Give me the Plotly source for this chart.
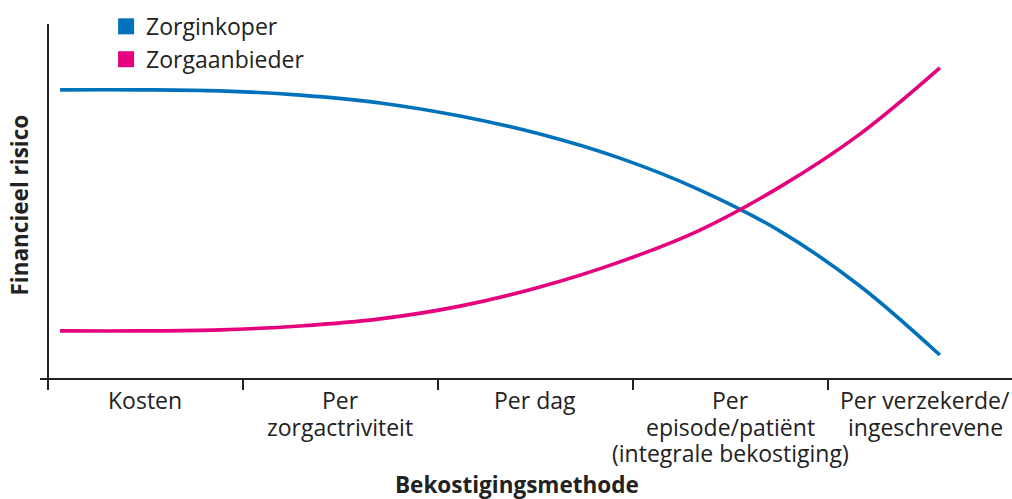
import plotly.graph_objects as go

categories = ["Kosten", "Per<br>zorgactriviteit", "Per dag",
              "Per<br>episode/patiënt<br>(integrale bekostiging)",
              "Per verzekerde/<br>ingeschrevene"]
category_centers = [0.5, 1.5, 2.5, 3.5, 4.5]
category_bounds = [0, 1, 2, 3, 4]

# positions along the method axis (category units) and risk levels (0-100)
x_pts = [0.062, 0.472, 0.882, 1.292, 1.703, 2.113, 2.523, 2.933, 3.344, 3.754, 4.164, 4.574]
zorginkoper = [81.4, 81.4, 81.1, 79.9, 77.7, 74.0, 68.9, 62.1, 53.1, 41.5, 26.0, 6.5]
zorgaanbieder = [13.3, 13.3, 13.6, 14.7, 16.7, 20.3, 25.7, 32.8, 41.8, 54.0, 68.9, 87.6]

BLUE = "#0072bb"
PINK = "#e5007d"
INK = "#222222"
FONT = "Open Sans"
PLOT_H = 354.0  # plot-area height in px (for paper-coordinate offsets)

fig = go.Figure()
fig.add_trace(go.Scatter(x=x_pts, y=zorginkoper, mode="lines",
                         line=dict(color=BLUE, width=3.6, shape="spline", smoothing=1.0),
                         showlegend=False))
fig.add_trace(go.Scatter(x=x_pts, y=zorgaanbieder, mode="lines",
                         line=dict(color=PINK, width=3.6, shape="spline", smoothing=1.0),
                         showlegend=False))
fig.add_trace(go.Scatter(x=[None], y=[None], mode="markers", name="Zorginkoper",
                         marker=dict(symbol="square", size=16, color=BLUE)))
fig.add_trace(go.Scatter(x=[None], y=[None], mode="markers", name="Zorgaanbieder",
                         marker=dict(symbol="square", size=16, color=PINK)))

# category labels, one annotation per text line for tight leading
annotations = []
for cx, label in zip(category_centers, categories):
    for i, line in enumerate(label.split("<br>")):
        annotations.append(dict(
            text=line, xref="x", yref="paper", x=cx, y=-(22 + 26.5 * i) / PLOT_H,
            xanchor="center", yanchor="middle", showarrow=False,
            font=dict(size=23, color=INK)))

annotations += [
    dict(text="<b>Bekostigingsmethode</b>", xref="paper", yref="paper",
         x=0.491, y=-106 / PLOT_H, xanchor="center", yanchor="middle", showarrow=False,
         font=dict(size=22.5, color=INK)),
    dict(text="<b>Financieel risico</b>", xref="paper", yref="paper", textangle=-90,
         x=-0.0206, y=0.49, xanchor="center", yanchor="middle", showarrow=False,
         font=dict(size=22.5, color=INK)),
]

fig.update_layout(
    width=1012, height=499,
    margin=dict(l=40, r=0, t=24, b=121),
    paper_bgcolor="white", plot_bgcolor="white",
    font=dict(family=FONT, size=23, color=INK),
    legend=dict(x=0.068, y=1.054, xanchor="left", yanchor="top", bgcolor="rgba(0,0,0,0)",
                font=dict(size=23, color=INK), itemwidth=30, tracegroupgap=0),
    xaxis=dict(range=[-0.041, 4.944], showgrid=False, automargin=False,
               showline=True, linecolor=INK, linewidth=1.5,
               zeroline=True, zerolinecolor=INK, zerolinewidth=1.5,
               tickmode="array", tickvals=category_centers, ticks="", showticklabels=False,
               minor=dict(tickvals=category_bounds, ticks="outside", ticklen=10,
                          tickcolor=INK, tickwidth=1.5, showgrid=False)),
    yaxis=dict(range=[0, 100], showgrid=False, showline=False, zeroline=False,
               showticklabels=False, ticks="", automargin=False),
    annotations=annotations,
)

fig.write_html("out.html", post_script="document.body.style.margin='0';",
               config={"displayModeBar": False})
